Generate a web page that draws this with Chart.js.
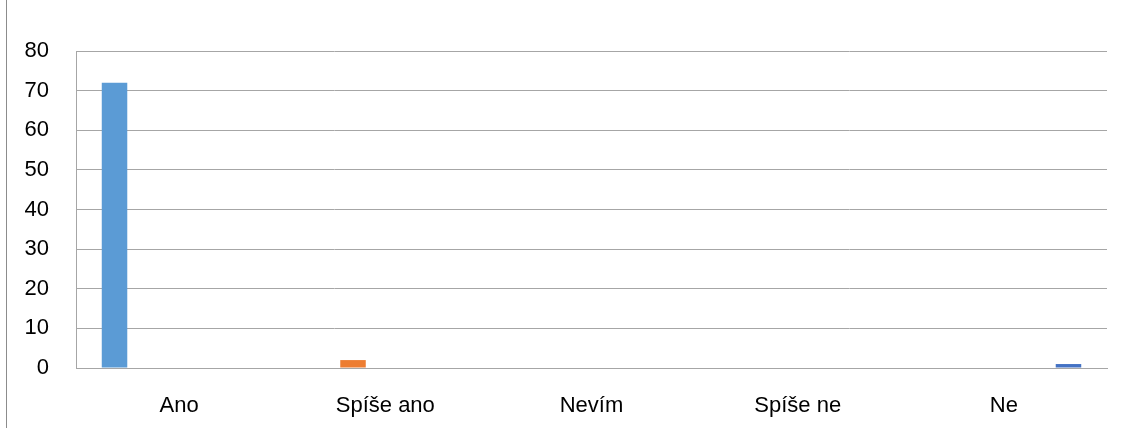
<!DOCTYPE html>
<html>
<head>
<meta charset="utf-8">
<script src="https://cdn.jsdelivr.net/npm/chart.js@4"></script>
<style>
  html, body { margin: 0; padding: 0; background: #fff; }
  #wrap { position: relative; width: 1126px; height: 428px; }
  #edge { position: absolute; left: 6px; top: 0; width: 0; height: 428px; border-left: 1px solid #8c8c8c; }
</style>
</head>
<body>
<div id="wrap">
  <div id="edge"></div>
  <canvas id="chart" width="1126" height="428"></canvas>
</div>
<script>
const categories = ["Ano", "Spíše ano", "Nevím", "Spíše ne", "Ne"];
const values = [72, 2, 0, 0, 1];
const colors = ["#5B9BD5", "#ED7D31", "#A5A5A5", "#FFC000", "#4472C4"];
const yTicks = [0, 10, 20, 30, 40, 50, 60, 70, 80];

// one series per answer, each only filled in its own category (as in Excel)
const datasets = categories.map((name, i) => ({
  label: name,
  data: categories.map((_, j) => (i === j ? values[i] : null)),
  backgroundColor: colors[i],
  categoryPercentage: 0.783,
  barPercentage: 0.79
}));

const font = { family: "'Liberation Sans', Arial, sans-serif", size: 22 };

new Chart(document.getElementById("chart"), {
  type: "bar",
  data: { labels: categories, datasets },
  options: {
    responsive: false,
    animation: false,
    layout: { padding: { left: 0, right: 19, top: 51, bottom: 0 } },
    plugins: { legend: { display: false }, tooltip: { enabled: false } },
    scales: {
      x: {
        grid: { display: false },
        border: { display: true, color: "#a6a6a6" },
        ticks: { color: "#000", font, padding: 17 },
        afterFit(scale) { scale.height = 60; }
      },
      y: {
        min: 0,
        max: 80,
        afterBuildTicks(scale) { scale.ticks = yTicks.map(v => ({ value: v })); },
        grid: { color: "#a6a6a6", lineWidth: 1, drawTicks: false },
        border: { display: true, color: "#a6a6a6" },
        ticks: { color: "#000", font, padding: 27 },
        afterFit(scale) { scale.width = 76; }
      }
    }
  }
});
</script>
</body>
</html>
